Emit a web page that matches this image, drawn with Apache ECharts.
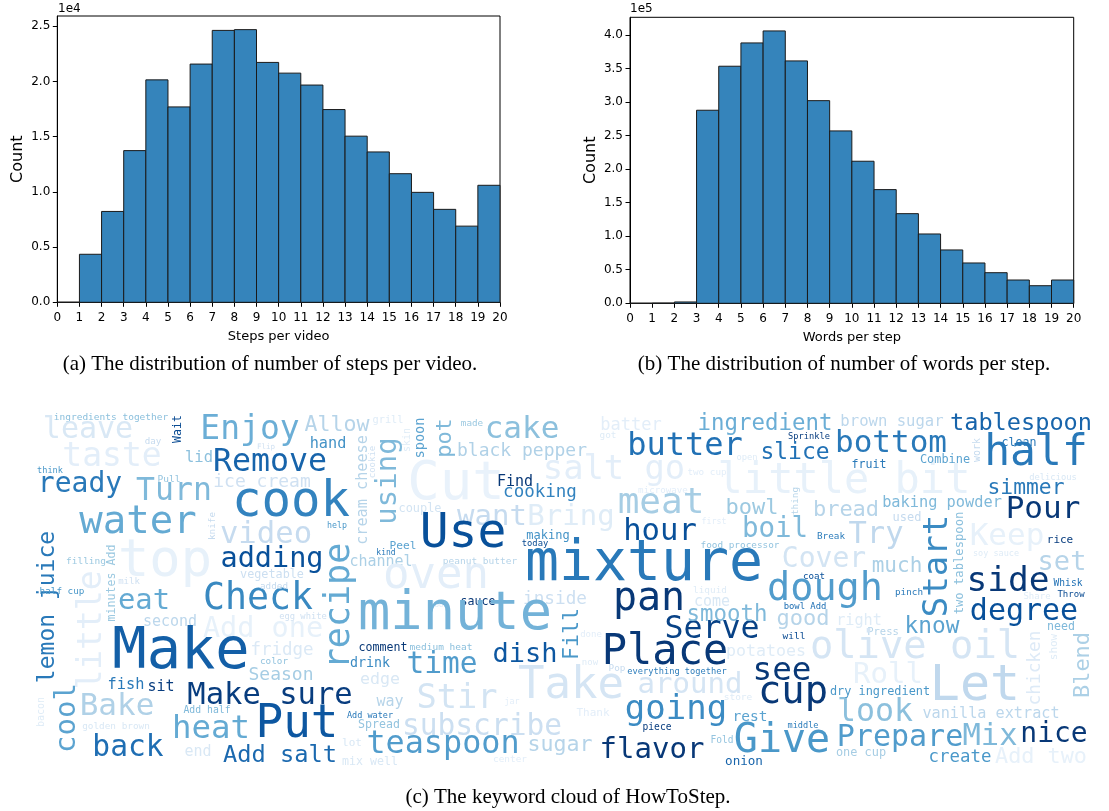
<!DOCTYPE html>
<html><head><meta charset="utf-8">
<script src="https://cdn.jsdelivr.net/npm/echarts@6/dist/echarts.min.js"></script>
<style>html,body{margin:0;padding:0;background:#fff}#c{width:1109px;height:811px}</style>
</head><body><div id="c"></div>
<script>
// ---------------- data ----------------
const binEdges = [0,1,2,3,4,5,6,7,8,9,10,11,12,13,14,15,16,17,18,19,20];
const stepsCounts = [0,4350,8230,13740,20150,17700,21580,24630,24700,21730,20760,19680,17460,15050,13620,11650,9960,8420,6900,10600];
const wordsCounts = [0,300,2000,287700,353300,388000,405900,361200,302000,256900,211700,169400,133600,103300,79500,60100,45600,34700,26200,34700];
const stepsTicks = [0,5000,10000,15000,20000,25000];
const wordsTicks = [0,50000,100000,150000,200000,250000,300000,350000,400000];

// keyword cloud: [word, frequency weight, colour shade 0..1 (Blues), vertical?]
const cloudWords = [
 ['ingredients together',9.5,0.42,0],['leave',30,0.15,0],['taste',33,0.1,0],['Wait',11.6,0.9,1],['Enjoy',33,0.5,0],
 ['Allow',21.6,0.3,0],['day',9.2,0.25,0],['hand',15.2,0.62,0],['lid',15.5,0.42,0],['Flip',7.5,0.2,0],
 ['Remove',31.6,0.8,0],['cream cheese',15.2,0.3,1],['cookie',9,0.2,1],['using',29,0.45,1],['think',8.6,0.6,0],
 ['ready',28,0.72,0],['Turn',31.5,0.45,0],['Pull',9.5,0.4,0],['ice cream',18,0.2,0],['cook',49,0.68,0],
 ['water',39,0.52,0],['lemon juice',23,0.72,1],['video',30.6,0.25,0],['help',8.3,0.6,0],['knife',9.3,0.25,1],
 ['top',52,0.08,0],['adding',28.5,0.88,0],['recipe',35,0.52,1],['channel',15,0.33,0],['Check',36.5,0.66,0],
 ['filling',9.5,0.38,0],['minutes Add',11.6,0.38,1],['milk',9,0.2,0],['vegetable',11.8,0.22,0],['added',9.3,0.25,0],
 ['half cup',9.3,0.6,0],['little',33,0.1,1],['eat',28.8,0.52,0],['Add one',28.5,0.08,0],['second',15,0.28,0],
 ['egg white',8.8,0.2,0],['Make',57,0.82,0],['fridge',17.5,0.14,0],['color',9.3,0.4,0],['Season',18,0.35,0],
 ['comment',11.6,0.97,0],['drink',13.3,0.65,0],['edge',16.6,0.15,0],['fish',15.3,0.72,0],['sit',15,0.95,0],
 ['Make sure',30.5,0.95,0],['cool',29,0.55,1],['bacon',10,0.12,1],['Bake',31,0.32,0],['Add half',9.8,0.45,0],
 ['golden brown',9.4,0.15,0],['heat',32.4,0.52,0],['Put',46,0.85,0],['back',29.6,0.76,0],['end',15,0.15,0],
 ['Add salt',23.7,0.78,0],['Add water',8.5,0.72,0],['way',15,0.3,0],['Spread',11.6,0.4,0],['teaspoon',31.8,0.58,0],
 ['lot',11,0.15,0],['mix well',11.6,0.15,0],['Peel',11.2,0.55,0],['kind',8,0.72,0],['couple',11.9,0.18,0],
 ['skin',10,0.12,1],['grill',10.3,0.12,0],['spoon',13.7,0.55,1],['pot',22,0.45,1],['made',9.3,0.38,0],
 ['cake',31,0.42,0],['black pepper',18,0.32,0],['batter',17,0.1,0],['got',9.4,0.12,0],['ingredient',22.4,0.5,0],
 ['butter',32,0.75,0],['salt go',33.8,0.1,0],['Cut',54,0.07,0],['little bit',42,0.08,0],['two cup',9.3,0.1,0],
 ['Find',15,0.97,0],['cooking',17.5,0.68,0],['microwave',9.2,0.1,0],['meat',36,0.35,0],['want',29,0.25,0],
 ['Bring',29,0.12,0],['Use',48,0.88,0],['hour',30.6,0.88,0],['bowl',22,0.38,0],['first',8.3,0.1,0],
 ['making',12,0.62,0],['today',8.8,0.9,0],['food processor',9.4,0.4,0],['peanut butter',9.5,0.3,0],['oven',44,0.1,0],
 ['mixture',56.5,0.72,0],['liquid',9.4,0.12,0],['pan',40,0.97,0],['dough',38.5,0.58,0],['Cover',28,0.18,0],
 ['much',21,0.33,0],['Try',30.5,0.27,0],['boil',27.5,0.45,0],['bread',22,0.3,0],['thing',9.3,0.3,1],
 ['baking powder',15.3,0.45,0],['used',12,0.25,0],['Break',9.3,0.7,0],['Start',34,0.65,1],['two tablespoon',12.2,0.42,1],
 ['Keep',31,0.08,0],['rice',11,0.95,0],['soy sauce',8.5,0.12,0],['set',27,0.3,0],['side',34.5,0.97,0],
 ['Whisk',9.6,0.75,0],['coat',9.2,0.88,0],['pinch',9.3,0.72,0],['Throw',9,0.9,0],['Share',9,0.12,0],
 ['Pour',31,0.97,0],['simmer',21.3,0.72,0],['delicious',8.8,0.15,0],['half',43,0.72,0],['clean',11.6,0.72,0],
 ['work',10,0.25,1],['tablespoon',23.6,0.8,0],['brown sugar',15.6,0.28,0],['bottom',31,0.72,0],['Sprinkle',8.7,0.95,0],
 ['slice',23,0.75,0],['open',8.8,0.12,0],['fruit',11.6,0.72,0],['Combine',11.9,0.55,0],['food',7.5,0.12,0],
 ['sauce',11.6,0.97,0],['inside',17.7,0.22,0],['minute',53.7,0.48,0],['Fill',21.6,0.6,1],['done',9,0.1,0],
 ['now',9,0.12,0],['medium heat',9.5,0.42,0],['dish',27,0.85,0],['time',29.5,0.58,0],['Take',44,0.17,0],
 ['Stir',33.7,0.18,0],['jar',8.3,0.1,0],['subscribe',29.5,0.22,0],['Thank',11,0.1,0],['center',9.4,0.1,0],
 ['sugar',21.6,0.3,0],['Place',42,0.97,0],['Serve',31.6,0.93,0],['come',15,0.15,0],['smooth',22.4,0.45,0],
 ['Pop',9.3,0.25,0],['everything together',8.7,0.7,0],['around',29,0.17,0],['potatoes',16.6,0.12,0],['going',34,0.65,0],
 ['piece',9.6,0.95,0],['flavor',29,0.97,0],['Fold',9.6,0.4,0],['store',9.5,0.12,0],['rest',14.5,0.55,0],
 ['middle',8.6,0.7,0],['onion',12.6,0.8,0],['Give',40,0.6,0],['one cup',11.9,0.35,0],['Prepare',30,0.58,0],
 ['Mix',30.5,0.45,0],['nice',28,0.97,0],['create',17.4,0.6,0],['Add two',21.8,0.08,0],['look',31.6,0.42,0],
 ['vanilla extract',15.2,0.28,0],['dry ingredient',11.9,0.6,0],['Roll',29,0.08,0],['Let',50,0.27,0],['chicken',17.8,0.13,1],
 ['show',11,0.12,1],['Blend',22,0.33,1],['need',11.6,0.45,0],['Press',10.5,0.3,0],['know',22.8,0.55,0],
 ['degree',30,0.88,0],['right',15.2,0.12,0],['good',22,0.3,0],['bowl Add',8.9,0.75,0],['will',9.5,0.9,0],
 ['olive oil',38.8,0.17,0],['see',32.6,0.97,0],['cup',38.8,0.97,0]
];
// placement of each keyword in the cloud canvas (pixel space of the cloud axis)
const cloudPlacement = {
 'ingredients together':[111,418],'leave':[88,430],'taste':[112,457],'Wait':[178,429],'Enjoy':[250,430],
 'Allow':[337,425],'day':[153,442],'hand':[328,444],'lid':[199,458],'Flip':[266,447],
 'Remove':[270,463],'cream cheese':[363,490],'cookie':[373,462],'using':[388,481],'think':[50,471],
 'ready':[80,485],'Turn':[174,492],'Pull':[169,480],'ice cream':[262,482],'cook':[291,503],
 'water':[138,523],'lemon juice':[48,607],'video':[266,535],'help':[337,526],'knife':[213,526],
 'top':[165,562],'adding':[272,560],'recipe':[340,606],'channel':[381,562],'Check':[258,600],
 'filling':[86,562],'minutes Add':[112,583],'milk':[129,582],'vegetable':[272,575],'added':[274,587],
 'half cup':[62,592],'little':[92,630],'eat':[144,602],'Add one':[263,630],'second':[170,622],
 'egg white':[303,617],'Make':[181,653],'fridge':[282,650],'color':[274,662],'Season':[281,675],
 'comment':[383,648],'drink':[370,664],'edge':[380,680],'fish':[126,685],'sit':[161,687],
 'Make sure':[270,696],'cool':[67,718],'bacon':[41,712],'Bake':[117,707],'Add half':[207,710],
 'golden brown':[116,727],'heat':[211,730],'Put':[297,725],'back':[128,748],'end':[198,752],
 'Add salt':[280,756],'Add water':[370,716],'way':[390,702],'Spread':[379,725],'teaspoon':[443,745],
 'lot':[352,743],'mix well':[370,762],'Peel':[403,546],'kind':[386,553],'couple':[420,509],
 'skin':[407,440],'grill':[388,420],'spoon':[420,438],'pot':[445,438],'made':[472,424],
 'cake':[522,430],'black pepper':[522,451],'batter':[631,426],'got':[608,436],'ingredient':[765,424],
 'butter':[685,447],'salt go':[614,470],'Cut':[456,485],'little bit':[844,482],'two cup':[707,473],
 'Find':[515,482],'cooking':[540,492],'microwave':[663,491],'meat':[661,504],'want':[492,517],
 'Bring':[571,517],'Use':[463,535],'hour':[660,532],'bowl':[752,508],'first':[714,522],
 'making':[548,536],'today':[535,544],'food processor':[740,546],'peanut butter':[480,562],'oven':[436,577],
 'mixture':[644,565],'liquid':[710,591],'pan':[649,600],'dough':[825,590],'Cover':[824,560],
 'much':[897,567],'Try':[876,535],'boil':[775,530],'bread':[846,510],'thing':[796,501],
 'baking powder':[942,503],'used':[907,518],'Break':[831,537],'Start':[938,566],'two tablespoon':[960,563],
 'Keep':[1007,537],'rice':[1060,540],'soy sauce':[996,554],'set':[1062,563],'side':[1008,582],
 'Whisk':[1068,583],'coat':[814,577],'pinch':[909,593],'Throw':[1071,595],'Share':[1037,597],
 'Pour':[1043,510],'simmer':[1026,488],'delicious':[1053,478],'half':[1036,454],'clean':[1019,443],
 'work':[977,450],'tablespoon':[1021,424],'brown sugar':[892,422],'bottom':[891,444],'Sprinkle':[809,437],
 'slice':[795,453],'open':[747,458],'fruit':[869,465],'Combine':[945,460],'food':[439,605],
 'sauce':[478,602],'inside':[555,599],'minute':[455,615],'Fill':[572,634],'done':[591,635],
 'now':[590,663],'medium heat':[441,648],'dish':[525,655],'time':[442,665],'Take':[571,687],
 'Stir':[457,699],'jar':[512,702],'subscribe':[482,727],'Thank':[593,713],'center':[510,760],
 'sugar':[560,745],'Place':[665,653],'Serve':[712,630],'come':[712,602],'smooth':[727,615],
 'Pop':[617,669],'everything together':[677,672],'around':[690,685],'potatoes':[766,652],'going':[676,710],
 'piece':[657,727],'flavor':[652,750],'Fold':[722,740],'store':[738,698],'rest':[750,717],
 'middle':[803,726],'onion':[744,762],'Give':[782,742],'one cup':[861,753],'Prepare':[900,738],
 'Mix':[990,737],'nice':[1054,735],'create':[960,757],'Add two':[1041,757],'look':[875,713],
 'vanilla extract':[991,714],'dry ingredient':[880,692],'Roll':[888,675],'Let':[975,687],'chicken':[1035,668],
 'show':[1054,647],'Blend':[1083,665],'need':[1061,627],'Press':[883,632],'know':[932,627],
 'degree':[1024,612],'right':[859,621],'good':[803,619],'bowl Add':[805,607],'will':[794,637],
 'olive oil':[915,648],'see':[782,672],'cup':[793,693]
};

// ---------------- helpers ----------------
const BLUES = ['#f7fbff','#deebf7','#c6dbef','#9ecae1','#6baed6','#4292c6','#2171b5','#08519c','#08306b'];
function hex2rgb(h){return [parseInt(h.slice(1,3),16),parseInt(h.slice(3,5),16),parseInt(h.slice(5,7),16)];}
function blues(t){
  t=Math.max(0,Math.min(1,t));
  const p=t*(BLUES.length-1), i=Math.min(Math.floor(p),BLUES.length-2), f=p-i;
  const a=hex2rgb(BLUES[i]), b=hex2rgb(BLUES[i+1]);
  const c=a.map((v,k)=>Math.round(v+(b[k]-v)*f));
  return 'rgb('+c.join(',')+')';
}
const histRows = counts => counts.map((c,i)=>[binEdges[i],binEdges[i+1],c]);
const BAR_FILL='#3584bb', BAR_EDGE='#1a1a1a';
function renderBin(params, api){
  const p0=api.coord([api.value(0),api.value(2)]);
  const p1=api.coord([api.value(1),0]);
  return {type:'rect',shape:{x:p0[0],y:p0[1],width:p1[0]-p0[0],height:p1[1]-p0[1]},
    style:{fill:BAR_FILL,stroke:BAR_EDGE,lineWidth:1}};
}
const tickFont={fontFamily:'DejaVu Sans',fontSize:12,color:'#000'};
function xAx(gi,name){
  return {type:'value',gridIndex:gi,min:0,max:20,interval:1,
    name:name,nameLocation:'middle',nameGap:28,nameTextStyle:{fontFamily:'DejaVu Sans',fontSize:13,color:'#000'},
    axisLine:{show:true,lineStyle:{color:'#000',width:1}},
    axisTick:{show:true,inside:false,length:4.5,lineStyle:{color:'#000',width:1}},
    axisLabel:Object.assign({margin:10},tickFont),
    splitLine:{show:false}};
}
function yAx(gi,max,ticks,scale){
  return {type:'value',gridIndex:gi,min:0,max:max,
    name:'Count',nameLocation:'middle',nameGap:31,nameRotate:90,
    nameTextStyle:{fontFamily:'DejaVu Sans',fontSize:16,color:'#000'},
    axisLine:{show:true,lineStyle:{color:'#000',width:1}},
    axisTick:{show:true,inside:false,length:4.5,lineStyle:{color:'#000',width:1},customValues:ticks},
    axisLabel:Object.assign({margin:7,customValues:ticks,formatter:v=>(v/scale).toFixed(1)},tickFont),
    splitLine:{show:false}};
}

const cloudData = cloudWords.map(([w,freq,shade,vert])=>({
  name:w, value:cloudPlacement[w],
  label:{formatter:w,fontSize:freq,color:blues(shade),rotate:vert?90:0,opacity:1,textBorderWidth:0}
}));

const capFont='21px "Liberation Serif"';
const chart = echarts.init(document.getElementById('c'),null,{renderer:'canvas'});
chart.setOption({
  animation:false,
  backgroundColor:'#fff',
  grid:[
    {left:57.3,top:16,width:442.7,height:286.3,show:true,borderColor:'#000',borderWidth:1,backgroundColor:'transparent'},
    {left:630,top:17.3,width:443.7,height:286,show:true,borderColor:'#000',borderWidth:1,backgroundColor:'transparent'},
    {left:0,top:0,width:1109,height:811,show:false}
  ],
  xAxis:[xAx(0,'Steps per video'),xAx(1,'Words per step'),
    {type:'value',gridIndex:2,min:0,max:1109,show:false}],
  yAxis:[yAx(0,25935,stepsTicks,1e4),yAx(1,426200,wordsTicks,1e5),
    {type:'value',gridIndex:2,min:0,max:811,inverse:true,show:false}],
  series:[
    {type:'custom',xAxisIndex:0,yAxisIndex:0,renderItem:renderBin,encode:{x:[0,1],y:2},data:histRows(stepsCounts)},
    {type:'custom',xAxisIndex:1,yAxisIndex:1,renderItem:renderBin,encode:{x:[0,1],y:2},data:histRows(wordsCounts)},
    {type:'scatter',xAxisIndex:2,yAxisIndex:2,symbolSize:1,itemStyle:{color:'rgba(255,255,255,0)',opacity:1},
     silent:true,z:5,
     label:{show:true,position:'inside',align:'center',verticalAlign:'middle',fontFamily:'DejaVu Sans Mono',opacity:1,textBorderWidth:0},
     data:cloudData}
  ],
  graphic:[
    {type:'text',left:58,top:3,style:{text:'1e4',font:'12px "DejaVu Sans"',fill:'#000'}},
    {type:'text',left:630,top:3,style:{text:'1e5',font:'12px "DejaVu Sans"',fill:'#000'}},
    {type:'text',x:270,y:364,style:{text:'(a) The distribution of number of steps per video.',font:capFont,fill:'#000',align:'center',verticalAlign:'middle'}},
    {type:'text',x:844,y:364,style:{text:'(b) The distribution of number of words per step.',font:capFont,fill:'#000',align:'center',verticalAlign:'middle'}},
    {type:'text',x:568,y:797,style:{text:'(c) The keyword cloud of HowToStep.',font:capFont,fill:'#000',align:'center',verticalAlign:'middle'}}
  ]
});
</script></body></html>
